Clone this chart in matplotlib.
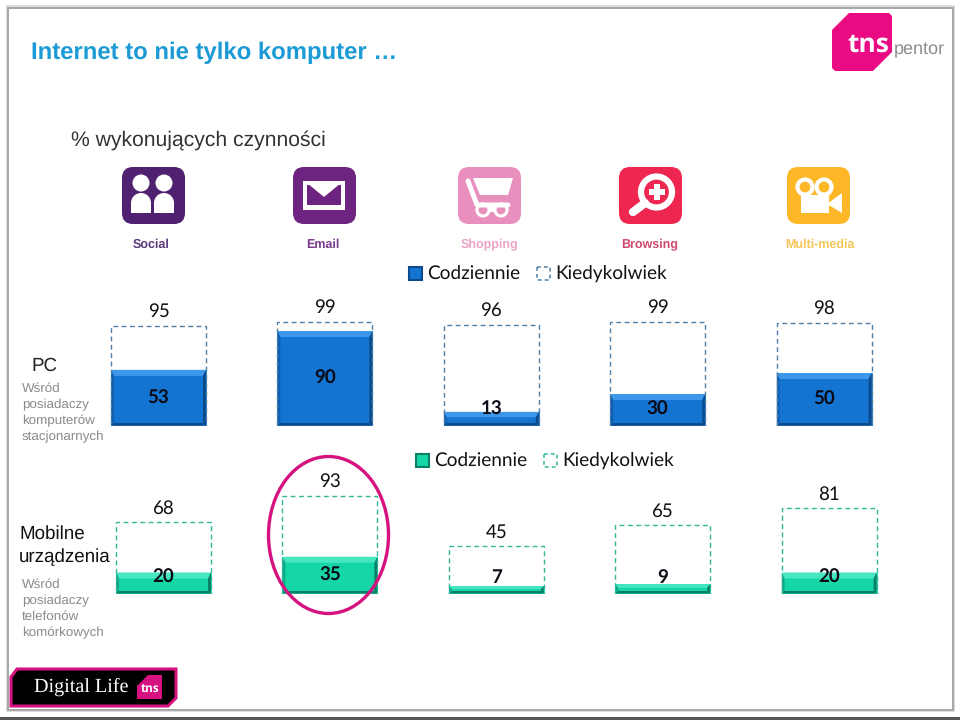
import matplotlib
matplotlib.use("Agg")
import matplotlib.pyplot as plt
from matplotlib.patches import Rectangle, FancyBboxPatch, Circle, Ellipse, Polygon

plt.rcParams["text.hinting"] = "none"

# dane
categories = ["Social", "Email", "Shopping", "Browsing", "Multi-media"]
cat_colors = ["#5a3a7e", "#7a3a8a", "#eba3c8", "#cf4a6c", "#f3c556"]
pc_daily = [53, 90, 13, 30, 50]
pc_any = [95, 99, 96, 99, 98]
mob_daily = [20, 35, 7, 9, 20]
mob_any = [68, 93, 45, 65, 81]

LATO = "Lato"
ARIAL = "Liberation Sans"
W, H = 960, 720
STEP = 166.4     # px between bars
BAR_W = 95 / STEP
SCALE = 1.05     # px per percent

fig = plt.figure(figsize=(W / 100, H / 100), dpi=100, facecolor="white")


def px_axes(zorder):
    a = fig.add_axes([0, 0, 1, 1], zorder=zorder)
    a.set_xlim(0, W)
    a.set_ylim(H, 0)
    a.axis("off")
    a.patch.set_alpha(0)
    return a


def chart_axes(x0, base_y, zorder=1):
    # osie wykresu ustawione tak, zeby 1 punkt procentowy = SCALE px
    top = 115
    a = fig.add_axes([(x0 - STEP / 2) / W, (H - base_y) / H, STEP * 5 / W, top * SCALE / H], zorder=zorder)
    a.set_xlim(-0.5, 4.5)
    a.set_ylim(0, top)
    a.axis("off")
    a.patch.set_alpha(0)
    return a


def draw_chart(a, daily, total, main, light, dark, dash):
    a.bar(range(5), daily, width=BAR_W, color=main, edgecolor=main, linewidth=0.6, zorder=1)
    b = 6 / SCALE       # gorny bevel
    sx = 3 / STEP       # boczne paski
    bot = 2.5 / SCALE
    for i, v in enumerate(daily):
        l, r = i - BAR_W / 2, i + BAR_W / 2
        bb = min(b, v * 0.4)
        a.fill([l, r, r - sx, l + sx], [v, v, v - bb, v - bb], color=light, lw=0, zorder=2)
        a.fill([l, l + sx, l + sx, l], [0, bot, v - bb, v], color=dark, alpha=0.5, lw=0, zorder=2)
        a.fill([r, r - sx, r - sx, r], [0, bot, v - bb, v], color=dark, lw=0, zorder=2)
        a.fill([l, r, r - sx, l + sx], [0, 0, bot, bot], color=dark, lw=0, zorder=2)
        a.text(i, max(v / 2, 15.5) - 0.6, str(v), ha="center", va="center", fontsize=13.5, fontweight="bold",
               family=LATO, color="#0a0a14", zorder=4)
        a.annotate(str(total[i]), (i, total[i]), xytext=(0, 14), textcoords="offset pixels", ha="center",
                   va="center", fontsize=13.5, family=LATO, color="#111111")
    a.bar(range(5), total, width=BAR_W, fill=False, edgecolor=dash, linewidth=1.0,
          linestyle=(0, (3.5, 2.5)), zorder=3)


bg = px_axes(0)
bg.add_patch(Rectangle((6, 5), 949, 707, color="#dddddd", lw=0))
bg.add_patch(Rectangle((7, 7), 947, 704, color="#a8a8a8", lw=0))
bg.add_patch(Rectangle((9, 9), 943, 700, color="white", lw=0))
bg.add_patch(Rectangle((0, 717), W, 3, color="#555555", lw=0))

ax_pc = chart_axes(158.5, 425.5)
draw_chart(ax_pc, pc_daily, pc_any, "#1474d2", "#3d97ea", "#0d4a8c", "#4f7fa8")
ax_mob = chart_axes(163.5, 593.5)
draw_chart(ax_mob, mob_daily, mob_any, "#14d6a6", "#45e6c0", "#0b7f66", "#30b89c")

ov = px_axes(2)

# tytuly
ov.text(31, 53, "Internet to nie tylko komputer …", fontsize=17.2, fontweight="bold", family=ARIAL,
        color="#1b9ad6", va="center")
ov.text(71, 140, "% wykonujących czynności", fontsize=15.2, family=ARIAL, color="#333333", va="center")

# opisy po lewej
ov.text(31, 366, "PC", fontsize=13.5, family=ARIAL, color="#222222", va="center")
ov.text(19, 534, "Mobilne", fontsize=13.5, family=ARIAL, color="#111111", va="center")
ov.text(19, 557, "urządzenia", fontsize=13.5, family=ARIAL, color="#111111", va="center")
for y, t in zip([389, 405, 421, 437], ["Wśród", "posiadaczy", "komputerów", "stacjonarnych"]):
    ov.text(22, y, t, fontsize=9.6, family=ARIAL, color="#8a8a8a", va="center")
for y, t in zip([585, 601, 617, 633], ["Wśród", "posiadaczy", "telefonów", "komórkowych"]):
    ov.text(22, y, t, fontsize=9.6, family=ARIAL, color="#8a8a8a", va="center")


# legendy
def legend(x, y, main, dark, dash):
    ov.add_patch(Rectangle((x, y - 6.5), 13, 13, facecolor=main, edgecolor=dark, lw=1.5))
    ov.text(x + 18, y + 0.5, "Codziennie", fontsize=13.7, family=LATO, color="#111111", va="center")
    ov.add_patch(Rectangle((x + 128, y - 6.5), 13, 13, fill=False, edgecolor=dash, lw=1.1, ls=(0, (2.5, 2))))
    ov.text(x + 146, y + 0.5, "Kiedykolwiek", fontsize=13.7, family=LATO, color="#111111", va="center")


legend(409, 273, "#1474d2", "#0d4a8c", "#4f7fa8")
legend(416, 460, "#14d6a6", "#0b7f66", "#30b89c")


# ikony
def icon(x, color):
    ov.add_patch(FancyBboxPatch((x, 167), 63, 57, boxstyle="round,pad=0,rounding_size=11", lw=0, color=color))


WH = "white"
icon(122, "#4f2170")
for cx in (141, 164):
    ov.add_patch(Circle((cx, 183), 8.5, color=WH, lw=0))
    ov.add_patch(Ellipse((cx, 203), 20, 20, color=WH, lw=0))
    ov.add_patch(Rectangle((cx - 10, 203), 20, 9.5, color=WH, lw=0))

icon(293, "#6d2480")
ov.add_patch(Rectangle((303, 181), 42, 29, color=WH, lw=0))
ov.add_patch(Rectangle((307, 185), 34, 20, color="#6d2480", lw=0))
ov.add_patch(Polygon([(307, 183), (324, 197), (341, 183)], closed=True, color=WH, lw=0))
ov.add_patch(Polygon([(311, 185), (324, 194), (337, 185)], closed=True, color=WH, lw=0))

icon(458, "#e88fbd")
ov.plot([468, 477, 508], [181, 205, 205], color=WH, lw=3.6, solid_capstyle="round", solid_joinstyle="round")
ov.add_patch(Polygon([(473, 178), (513, 178), (508, 195), (480, 195)], color=WH, lw=0))
ov.add_patch(Rectangle((476, 203), 32, 9, color=WH, lw=0))
for cx in (483, 501):
    ov.add_patch(Circle((cx, 210), 6, facecolor="#e88fbd", edgecolor=WH, lw=2.2))

icon(619, "#ee2750")
ov.add_patch(Circle((656.5, 192), 15.5, facecolor="#ee2750", edgecolor=WH, lw=4.5))
ov.add_patch(Rectangle((648.5, 189), 16, 6, color=WH, lw=0))
ov.add_patch(Rectangle((653.5, 184), 6, 16, color=WH, lw=0))
ov.plot([633, 645], [212, 203], color=WH, lw=6, solid_capstyle="round")

icon(787, "#fdb727")
for cx in (805, 824):
    ov.add_patch(Circle((cx, 187), 7.5, facecolor="#fdb727", edgecolor=WH, lw=3))
ov.add_patch(Rectangle((801, 195), 28, 18, color=WH, lw=0))
ov.add_patch(Polygon([(827, 204), (842, 193), (842, 213)], color=WH, lw=0))

for name, col, x in zip(categories, cat_colors, [151, 323, 489, 650, 820]):
    ov.text(x, 244.5, name, fontsize=9, fontweight="bold", family=ARIAL, color=col, ha="center", va="center")

# kolko wokol Email
ov.add_patch(Ellipse((328.5, 535), 120, 157, fill=False, edgecolor="#d5127f", lw=2.4))

# logo tns pentor
ov.add_patch(Polygon([(849, 13), (889, 13), (892, 16), (892, 52), (873, 71), (835, 71), (832, 68), (832, 30)],
                     color="#ea0a83", lw=0))
ov.text(868, 45, "tns", fontsize=19, fontweight="bold", family="Open Sans", color="white", ha="center", va="center")
ov.text(894, 50, "pentor", fontsize=13, family=ARIAL, color="#8c8c8c", va="center")

# Digital Life
ov.add_patch(Polygon([(17, 669), (176, 669), (176, 698), (168, 706), (11, 706), (11, 677)],
                     facecolor="black", edgecolor="#d5127f", lw=2.2))
ov.text(34, 687, "Digital Life", fontsize=14.5, family="Liberation Serif", color="white", va="center")
ov.add_patch(Polygon([(148, 675), (162, 675), (162, 699), (137, 699), (137, 686)], color="#d5127f", lw=0))
ov.text(150, 690, "tns", fontsize=8.5, fontweight="bold", family="Open Sans", color="white", ha="center", va="center")

fig.savefig("out.png", dpi=100)
